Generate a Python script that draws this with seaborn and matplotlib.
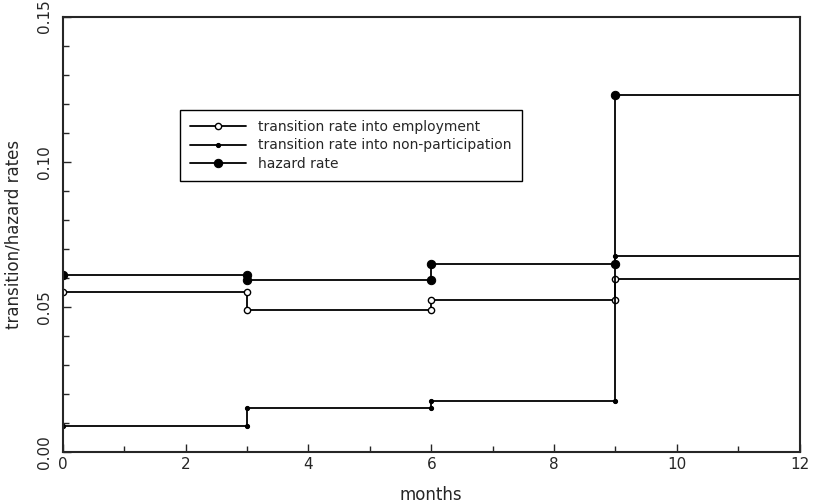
import numpy as np
import pandas as pd
import matplotlib
matplotlib.use("Agg")
import matplotlib.pyplot as plt
import seaborn as sns
from matplotlib.legend_handler import HandlerLine2D
from matplotlib.ticker import MultipleLocator

# interval boundaries (months) and piecewise-constant rates
breaks = [0, 3, 6, 9, 12]
employment = [0.0551, 0.0490, 0.0524, 0.0596]
non_participation = [0.0089, 0.0151, 0.0178, 0.0675]
hazard = [0.0610, 0.0593, 0.0647, 0.1229]

labels = ["transition rate into employment",
          "transition rate into non-participation",
          "hazard rate"]


def step_frame(values):
    xs, ys = [], []
    for i, v in enumerate(values):
        xs += [breaks[i], breaks[i + 1]]
        ys += [v, v]
    return pd.DataFrame({"months": xs, "rate": ys})


class LeftMarker(HandlerLine2D):
    # marker at the left end of the legend line, as in the original
    def get_xdata(self, legend, xdescent, ydescent, width, height, fontsize):
        xdata, _ = super().get_xdata(legend, xdescent, ydescent, width, height, fontsize)
        return xdata, [xdata[0]]


sns.set_style("ticks")
plt.rcParams["font.family"] = ["DejaVu Sans"]

fig = plt.figure(figsize=(8.16, 5.03), dpi=100)
ax = fig.add_axes([0.077, 0.101, 0.903, 0.866])

styles = [
    dict(marker="o", markersize=4.5, markerfacecolor="white", markeredgewidth=1.0),
    dict(marker="o", markersize=3, markerfacecolor="black"),
    dict(marker="o", markersize=6, markerfacecolor="black"),
]
series = [employment, non_participation, hazard]
mark_idx = [0, 1, 2, 3, 4, 5, 6]

for vals, lab, st in zip(series, labels, styles):
    df = step_frame(vals)
    sns.lineplot(data=df, x="months", y="rate", ax=ax, estimator=None, sort=False,
                 color="black", linewidth=1.3, markeredgecolor="black",
                 markevery=mark_idx, label=lab, **st)

ax.set_xlim(0, 12)
ax.set_ylim(0, 0.15)
ax.xaxis.set_major_locator(MultipleLocator(2))
ax.xaxis.set_minor_locator(MultipleLocator(1))
ax.yaxis.set_major_locator(MultipleLocator(0.05))
ax.yaxis.set_minor_locator(MultipleLocator(0.01))
ax.yaxis.set_major_formatter(plt.FuncFormatter(lambda v, p: f"{v:.2f}"))
ax.tick_params(which="both", direction="in", top=False, right=False, labelsize=11)
ax.tick_params(axis="y", pad=8)
ax.tick_params(which="major", length=6, width=1)
ax.tick_params(which="minor", length=4, width=1)
for t in ax.get_yticklabels():
    t.set_rotation(90)
    t.set_va("center")
for s in ax.spines.values():
    s.set_linewidth(1.5)

ax.set_xlabel("months", fontsize=12, labelpad=10)
ax.set_ylabel("transition/hazard rates", fontsize=12, labelpad=10)

handles, labs = ax.get_legend_handles_labels()
leg = ax.legend(handles, labs, loc="upper left", bbox_to_anchor=(0.159, 0.786),
                borderaxespad=0, frameon=True, fancybox=False, edgecolor="black",
                fontsize=10, handlelength=4, handletextpad=0.9,
                handler_map={h: LeftMarker() for h in handles},
                borderpad=0.75, labelspacing=0.3, framealpha=1)
leg.get_frame().set_linewidth(1.0)

fig.savefig("out.png", dpi=100)
